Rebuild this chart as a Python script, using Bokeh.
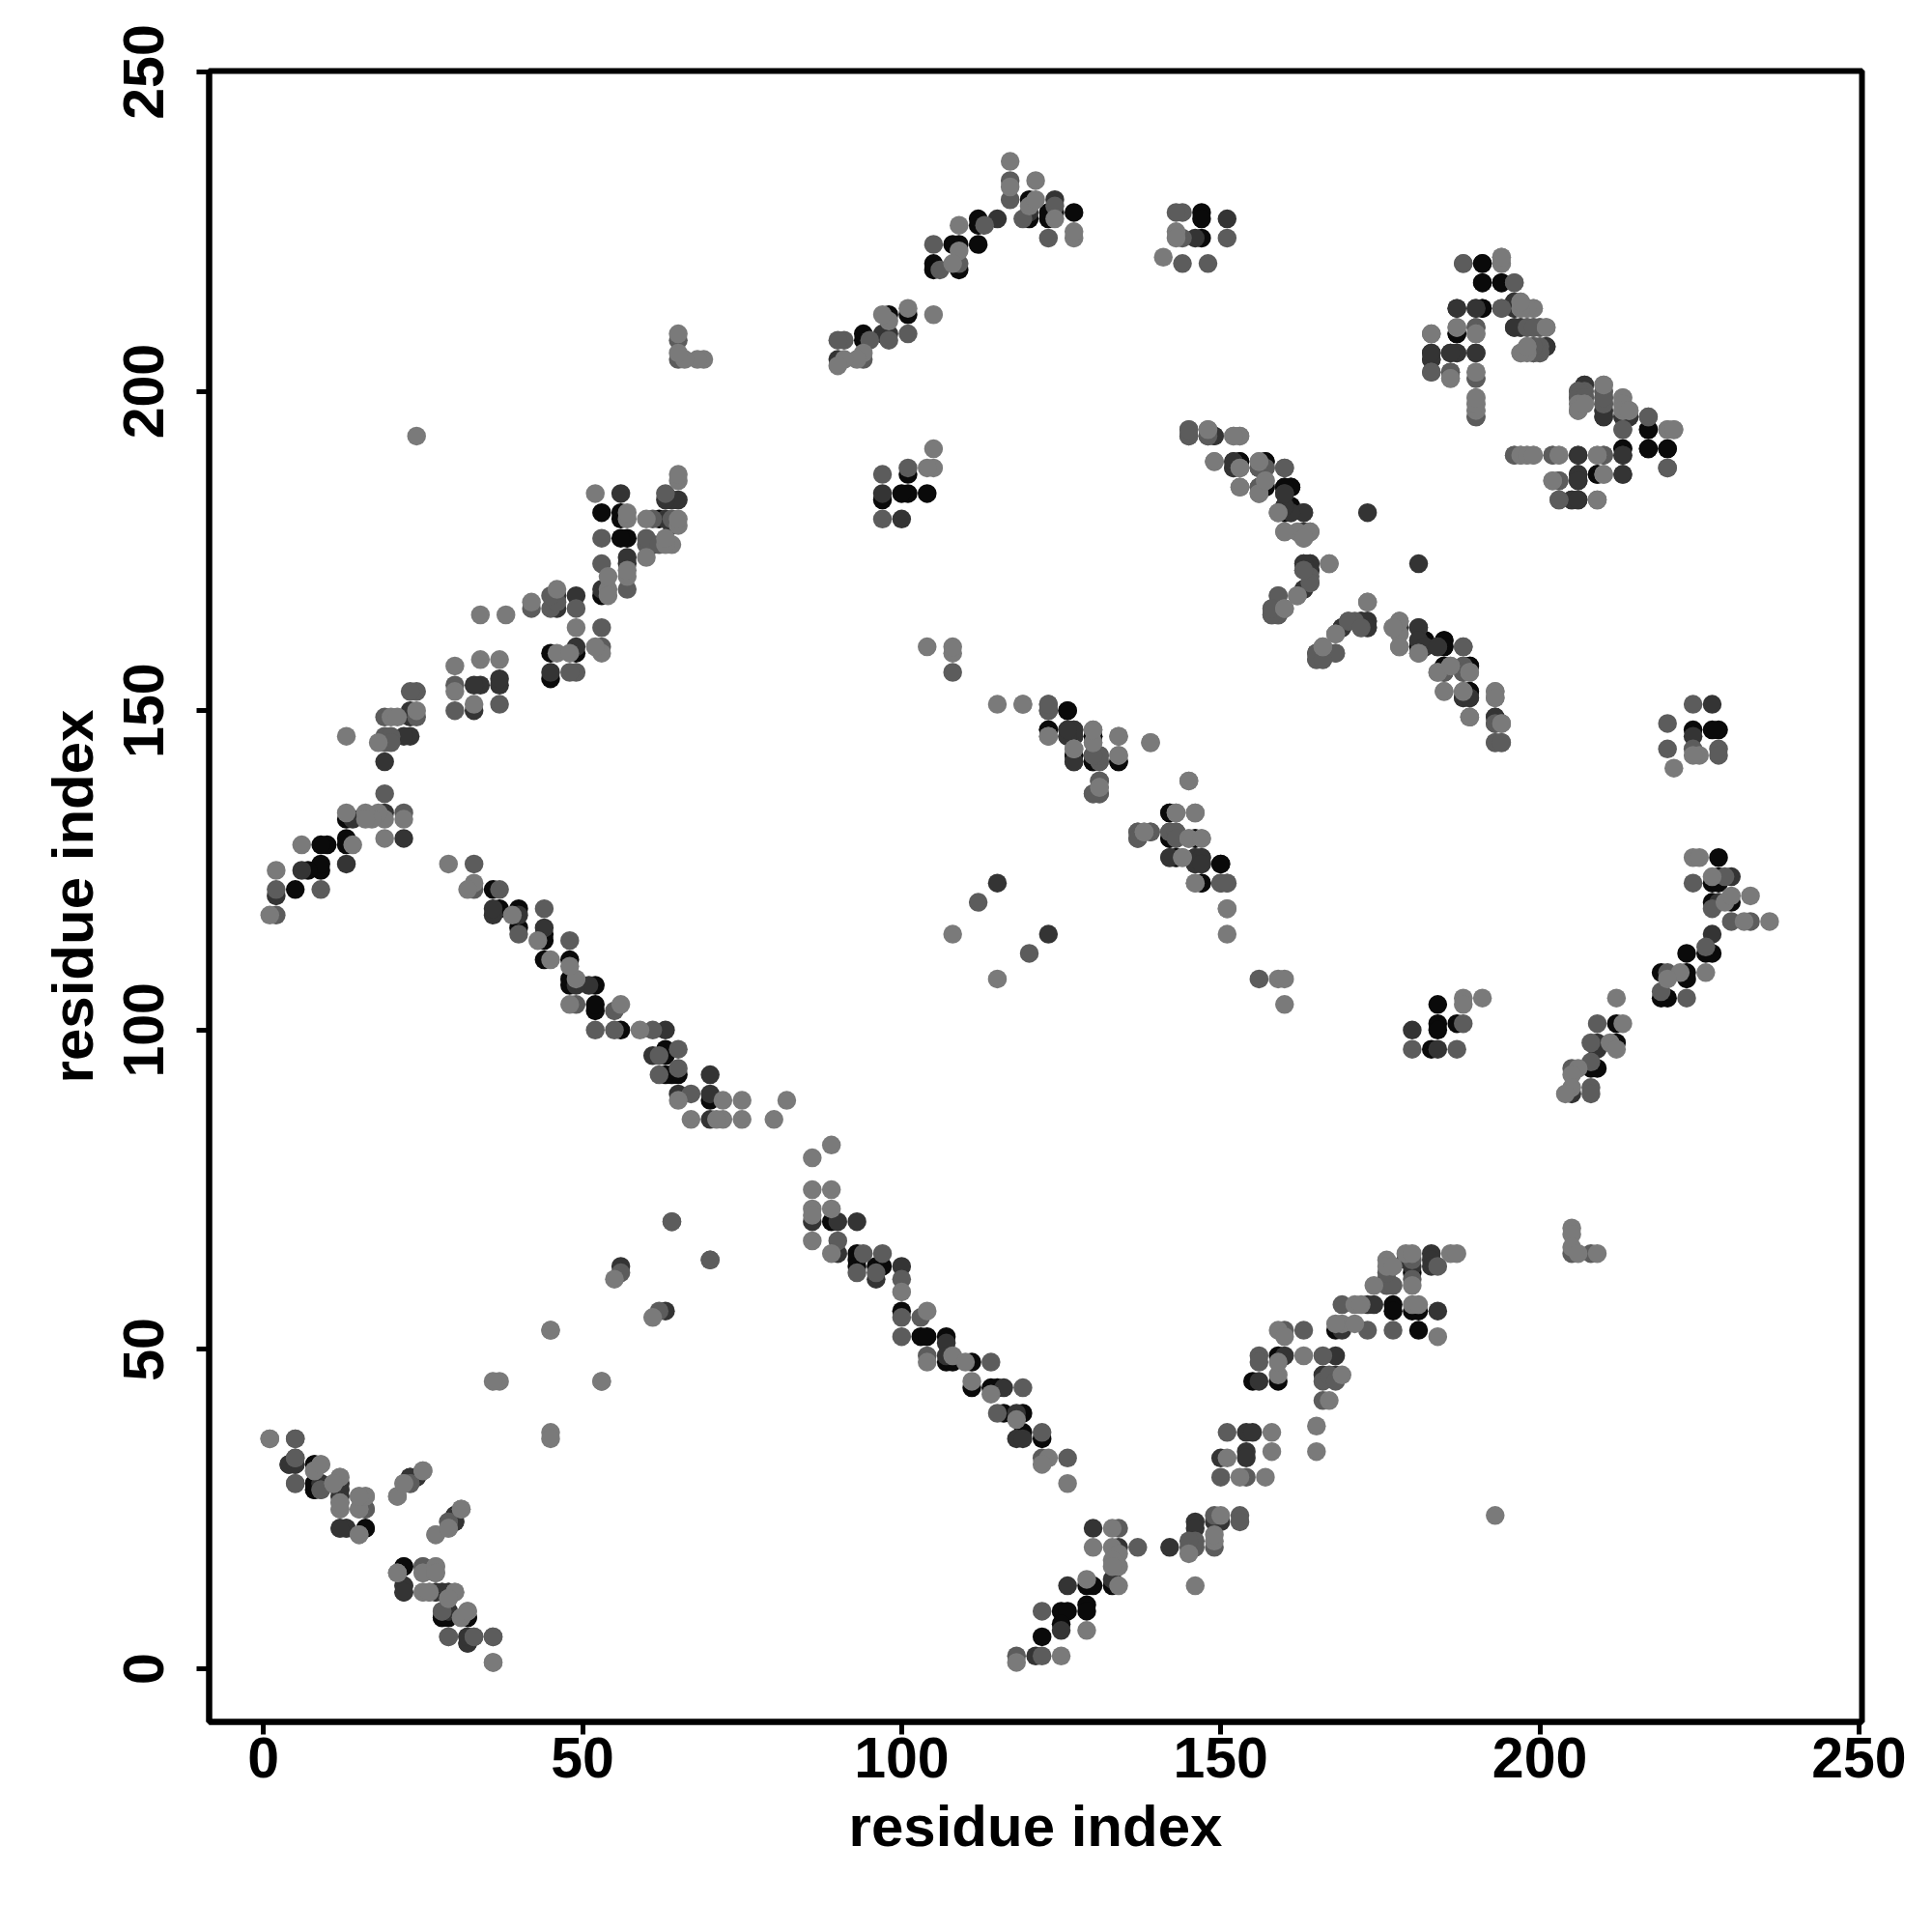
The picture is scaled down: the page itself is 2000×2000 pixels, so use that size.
from bokeh.plotting import figure
from bokeh.models import ColumnDataSource, Range1d, FixedTicker
from bokeh.embed import file_html
from bokeh.resources import INLINE

L, M, D, K = 0, 1, 2, 3  # contact strength level, light to dark

tick_values = [0, 50, 100, 150, 200, 250]
axis_title = "residue index"

near_diagonal = [
(1,36,L),(5,36,M),(5,33,M),(4,32,D),(5,32,D),(5,29,M),(8,32,K),(9,32,L),(8,31,L),(8,28,K),(8,29,K),(9,29,D),(9,28,M),(11,29,L),
(12,30,L),(12,29,D),(12,28,D),(12,27,D),(12,26,M),(12,25,L),(15,27,L),(16,27,L),(15,25,L),(16,25,M),(12,22,D),(13,22,D),(15,21,L),(16,22,K),
(21,27,L),(22,29,L),(23,29,M),(23,30,K),(24,30,D),(25,31,L),(27,21,L),(29,22,L),(29,23,M),(30,23,D),(30,24,K),(31,25,L),
(21,15,L),(22,16,K),(25,15,L),(25,16,M),(27,16,L),(27,15,L),(22,13,D),(22,12,D),(25,12,L),(26,12,L),(27,12,D),(28,12,D),(29,12,D),(30,12,L),(29,11,L),
(28,9,M),(28,8,K),(29,9,D),(29,8,K),(31,8,L),(32,8,K),(32,9,L),(29,5,M),(32,4,D),(32,5,D),(33,5,M),(36,5,M),(36,1,L),
]
isolated = [
(45,53,L),(45,37,L),(45,36,L),(53,45,L),(61,55,L),(62,56,M),(63,56,D),(64,70,M),(70,64,M),(193,24,L),(173,181,D),
(205,69,L),(205,68,L),(205,66,L),(205,65,M),(206,65,L),(208,65,M),(209,65,L),(123,115,D),(120,112,M),(115,108,L),
(156,108,M),(159,108,L),(160,108,L),(160,104,L),
]
band_lower_a = [
(89,82,L),(86,80,L),(86,75,L),(89,75,L),(86,72,L),(86,71,L),(86,70,D),(89,72,L),(89,70,K),(90,70,D),(93,70,D),(86,67,L),(90,67,M),(89,65,L),(90,65,D),
(93,65,K),(93,64,K),(94,65,M),(97,65,M),(93,63,K),(93,62,M),(96,63,K),(97,63,K),(96,62,M),(96,61,D),(100,63,D),(100,61,M),(100,59,L),
(100,56,K),(100,55,M),(103,55,M),(104,56,L),(100,52,M),(103,52,K),(104,52,K),(107,52,K),(107,51,D),(104,49,M),(104,48,L),(107,48,K),(107,49,D),(108,48,K),(108,49,L),(110,48,L),(111,48,K),(114,48,M),
(111,45,L),(111,44,K),(114,44,K),(115,44,K),(116,44,D),(119,44,M),(114,43,L),(115,40,M),(116,40,K),(118,40,D),(119,40,K),(118,39,L),
(119,37,K),(118,36,D),(119,36,D),(122,37,M),(122,36,K),(122,33,M),(123,33,L),(122,32,L),(126,33,M),(126,29,L),
]
band_lower_b = [
(130,22,D),(133,22,L),(134,22,M),(130,19,L),(133,19,L),(134,19,D),(137,19,M),(134,18,L),(133,17,L),(134,16,L),(133,16,L),
(126,13,D),(129,14,L),(129,13,K),(130,13,K),(133,13,K),(134,13,L),(133,14,D),(122,9,M),(125,9,K),(126,9,K),(129,10,K),(129,9,K),
(122,5,K),(125,7,K),(125,6,D),(129,6,L),(118,2,M),(118,1,L),(121,2,D),(122,2,M),(125,2,L),
(142,19,D),(145,18,L),(145,19,M),(146,19,M),(146,20,M),(145,20,M),(146,23,D),(146,22,D),(146,13,L),
(149,19,M),(149,20,L),(149,21,L),(149,24,M),(149,23,D),(150,23,D),(150,24,L),(153,24,M),(153,23,M),
(151,37,M),(154,37,D),(155,37,D),(158,37,L),(150,33,D),(151,33,L),(154,34,D),(154,33,D),(158,34,L),(150,30,M),(153,30,L),(154,30,M),(157,30,L),(165,38,L),(165,34,L),
]
band_lower_c = [
(155,45,K),(156,45,D),(159,46,L),(159,45,K),(156,49,M),(156,48,M),(159,49,K),(160,49,D),(159,48,L),(163,49,L),(166,49,M),(168,49,D),
(166,46,D),(166,45,M),(167,46,M),(168,46,D),(169,46,L),(168,45,M),(166,42,M),(167,42,L),(159,53,L),(160,53,M),(160,52,L),(163,53,M),
(168,53,K),(169,54,L),(169,53,D),(168,54,L),(171,54,L),(173,53,M),(169,57,M),(171,57,L),(172,57,L),(173,57,D),(174,57,D),
(177,57,K),(177,56,K),(177,53,M),(180,57,L),(181,57,L),(180,56,K),(181,56,K),(184,56,D),(181,53,K),(184,52,L),
(174,60,L),(176,60,M),(177,60,M),(176,61,K),(176,62,M),(176,64,L),(176,63,L),(177,63,L),(179,65,L),(180,65,L),(179,64,D),(180,64,M),(180,63,D),(180,62,K),(180,61,M),(180,60,L),
(183,65,D),(183,64,D),(183,63,D),(184,63,M),(186,65,L),(187,65,L),
]
band_right = [
(224,127,L),(225,127,L),(228,127,K),(224,123,M),(227,124,L),(227,123,K),(228,124,K),(228,123,K),(229,124,M),(230,124,D),
(227,120,K),(228,120,D),(227,119,M),(229,120,L),(230,121,L),(230,120,K),(233,121,L),(230,117,M),(232,117,L),(233,117,M),(236,117,L),
(227,115,D),(226,113,M),(226,112,K),(227,112,K),(223,112,K),(226,109,L),(223,109,K),(223,108,K),(222,109,L),(219,109,K),(220,109,M),(220,108,L),
(219,106,M),(219,105,K),(220,105,K),(223,105,M),(212,105,L),(209,101,M),(212,101,K),(213,101,L),(208,98,M),(209,98,D),(209,97,D),(211,98,L),(212,98,K),(212,97,L),
(208,95,M),(208,94,K),(209,94,K),(205,94,M),(206,94,L),(205,93,L),(205,91,L),(204,90,L),(205,90,D),(208,91,M),(208,90,M),
(180,100,D),(180,97,M),(184,104,K),(184,101,K),(184,100,K),(183,97,K),(184,97,D),(187,97,M),(187,101,K),(188,101,M),(188,105,L),(188,104,L),(191,105,L),
]
block_upper = [
(188,220,M),(191,220,K),(194,221,L),(194,220,L),(191,217,K),(194,217,K),(196,217,M),(187,213,D),(190,213,D),(191,213,K),(194,213,M),(196,214,D),(197,214,L),(197,213,L),(196,213,D),(198,213,L),(199,213,L),
(183,209,M),(187,210,L),(187,209,K),(190,210,M),(190,209,L),(196,210,D),(197,210,D),(198,210,M),(199,210,D),(200,210,M),(201,210,L),
(197,206,L),(198,207,L),(199,207,M),(199,206,M),(200,206,M),(201,207,D),(200,207,M),(183,206,D),(183,205,D),(183,203,M),(186,206,D),(187,206,D),(190,206,D),(186,203,D),(186,202,L),
(190,203,L),(190,202,M),(190,199,L),(190,198,L),(190,197,M),(190,196,M),
(207,201,D),(206,200,M),(206,199,M),(206,198,L),(206,197,L),(207,199,M),(207,198,L),(210,201,L),(210,200,M),(210,199,M),(210,198,D),(210,197,D),(210,196,D),
(213,199,L),(213,198,L),(213,197,L),(214,197,L),(213,196,D),(214,196,D),(213,194,M),(217,196,M),(217,194,K),(220,194,L),(221,194,L),
(196,190,M),(197,190,L),(198,190,L),(199,190,L),(202,190,M),(203,190,L),(206,190,D),(209,190,L),(210,190,M),(213,191,K),(213,190,D),(217,191,K),(220,191,K),(220,188,M),
(202,186,L),(203,186,M),(206,187,D),(206,186,D),(209,187,K),(210,187,L),(213,187,D),(203,183,M),(205,183,D),(206,183,D),(209,183,L),
(220,148,M),(220,144,M),(221,141,L),(224,151,M),(227,151,D),(224,147,K),(224,144,M),(225,143,L),(224,146,D),(228,147,K),(227,147,K),(228,144,M),(228,143,M),(224,143,L),
]
band_middle = [
(145,194,M),(145,193,M),(148,194,M),(148,193,M),(149,193,D),(152,193,L),(153,193,L),(149,189,L),(152,189,D),(152,188,D),(153,189,K),(153,188,M),(156,189,L),(156,188,D),(157,189,K),(157,188,D),(160,188,M),
(153,185,L),(156,185,M),(156,184,L),(157,186,L),(157,185,K),(160,185,K),(161,185,K),(160,184,D),(159,181,L),(160,182,D),(160,181,K),(161,182,K),(161,181,D),(163,181,D),
(160,178,L),(162,178,L),(163,178,D),(164,178,L),(163,177,L),(163,173,D),(164,173,D),(163,172,D),(164,172,D),(167,173,L),(164,171,M),(164,170,M),
(163,169,D),(162,168,L),(159,168,M),(158,166,M),(159,166,D),(160,166,L),(158,165,M),(159,165,M),(173,167,L),
(170,164,M),(169,163,D),(168,162,L),(172,164,D),(173,164,D),(172,163,M),(173,163,D),(165,159,D),(166,160,L),(166,159,D),(168,159,M),(165,158,M),(166,158,M),
(177,163,L),(178,164,M),(178,163,D),(178,160,L),(181,163,D),(181,161,D),(181,160,K),(182,161,K),(182,160,D),(181,159,M),(184,160,D),(185,161,K),(185,160,K),(188,160,M),
(184,156,L),(185,157,K),(185,156,D),(186,157,L),(188,157,M),(188,156,M),(189,157,K),(189,156,L),(185,153,L),(188,153,L),(188,152,D),(189,153,K),(189,152,D),(189,149,M),
(193,153,L),(193,152,L),(193,149,D),(193,148,D),(194,148,L),(193,145,M),(194,145,M),
]
band_centre = [
(119,151,L),(123,151,M),(123,150,D),(126,150,K),(123,147,K),(123,146,L),(126,147,D),(127,147,D),(126,146,D),(127,146,D),(130,147,L),(130,146,K),(130,145,L),(134,146,L),(139,145,L),
(127,144,L),(127,143,K),(127,142,D),(130,143,K),(130,142,K),(131,143,M),(131,142,M),(134,143,L),(134,142,K),(131,139,M),(131,138,L),(130,137,M),(131,137,M),(145,139,L),
(142,134,K),(143,134,L),(146,134,L),(137,131,M),(138,131,L),(139,131,M),(137,130,M),(142,131,D),(142,130,K),(143,131,M),(143,130,M),(145,130,L),(146,130,K),(147,130,L),
(142,127,D),(143,127,K),(144,127,L),(146,127,D),(147,127,D),(146,126,D),(147,126,D),(150,126,K),(146,123,L),(147,123,K),(150,123,M),(151,123,M),(151,119,L),(151,115,L),
]

contacts = (near_diagonal + isolated + band_lower_a + band_lower_b + band_lower_c
            + band_right + block_upper + band_middle + band_centre)

# the map is symmetric: every contact (i, j) is drawn with its partner (j, i)
shade = {L: "#7a7a7a", M: "#5c5c5c", D: "#343434", K: "#0a0a0a"}
ordered = sorted(contacts, key=lambda c: -c[2])
xs, ys, cs = [], [], []
for i, j, s in ordered:
    xs += [i, j]
    ys += [j, i]
    cs += [shade[s], shade[s]]
source = ColumnDataSource(dict(x=xs, y=ys, c=cs))

p = figure(width=1984, height=1984, output_backend="svg", toolbar_location=None,
           x_range=Range1d(-8.5, 250.47), y_range=Range1d(-8.32, 250.15),
           min_border_left=216, min_border_right=57, min_border_top=73, min_border_bottom=202)
p.scatter("x", "y", source=source, size=19.5, fill_color="c", line_color=None)

p.grid.visible = False
p.background_fill_color = "white"
p.outline_line_color = "black"
p.outline_line_width = 6
p.outline_line_alpha = 1

for ax in (p.xaxis[0], p.yaxis[0]):
    ax.ticker = FixedTicker(ticks=tick_values)
    ax.axis_label = axis_title
    ax.axis_label_text_font = "Liberation Sans"
    ax.axis_label_text_font_style = "bold"
    ax.axis_label_text_font_size = "60px"
    ax.axis_label_text_color = "black"
    ax.major_label_text_font = "Liberation Sans"
    ax.major_label_text_font_style = "bold"
    ax.major_label_text_font_size = "59px"
    ax.major_label_text_color = "black"
    ax.major_tick_in = 0
    ax.major_tick_out = 13
    ax.major_tick_line_width = 5
    ax.major_tick_line_color = "black"
    ax.minor_tick_line_color = None
    ax.axis_line_width = 6
    ax.axis_line_color = "black"
p.yaxis[0].major_label_orientation = "parallel"
p.xaxis[0].major_label_standoff = 3
p.yaxis[0].major_label_standoff = 34
p.xaxis[0].axis_label_standoff = 14
p.yaxis[0].axis_label_standoff = 17

open("out.html", "w").write(file_html(p, INLINE))
